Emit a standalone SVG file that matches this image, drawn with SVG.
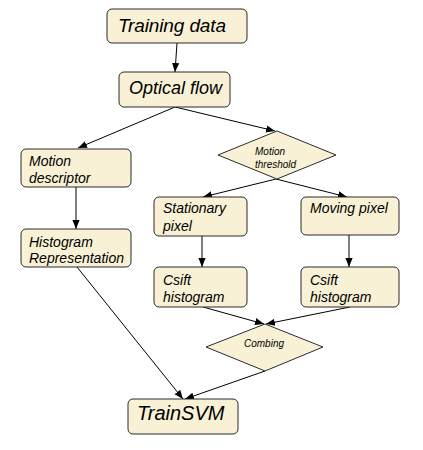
<svg xmlns="http://www.w3.org/2000/svg" width="423" height="450" viewBox="0 0 423 450">
<style>
.n{fill:#F8F1D5;stroke:#2b2b2b;stroke-width:1}
.t{font-family:"Liberation Sans",Arial,sans-serif;font-style:italic;fill:#000}
.c line{stroke:#000;stroke-width:1;marker-end:url(#a)}
</style>
<defs>
<marker id="a" viewBox="0 0 10 10" refX="10" refY="5" markerWidth="9" markerHeight="9" markerUnits="userSpaceOnUse" orient="auto">
<path d="M0,1 L10,5 L0,9 z" fill="#000"/>
</marker>
</defs>
<rect width="423" height="450" fill="#fff"/>
<g class="c">
<line x1="177" y1="43" x2="175" y2="72"/>
<line x1="175" y1="107" x2="78" y2="148"/>
<line x1="175" y1="107" x2="275" y2="131"/>
<line x1="76" y1="187" x2="76" y2="229"/>
<line x1="276" y1="179" x2="203" y2="197"/>
<line x1="276" y1="179" x2="347" y2="197"/>
<line x1="202" y1="236" x2="202" y2="267"/>
<line x1="349" y1="235" x2="349" y2="267"/>
<line x1="203" y1="307" x2="264" y2="324"/>
<line x1="350" y1="307" x2="266" y2="324"/>
<line x1="77" y1="267" x2="183" y2="399"/>
<line x1="265" y1="371" x2="185" y2="399"/>
</g>
<g id="training"><rect class="n" x="107" y="9" width="140" height="34" rx="5"/><text class="t" x="118" y="32" font-size="19" textLength="108">Training data</text></g>
<g id="optical"><rect class="n" x="119" y="72" width="111" height="35" rx="5"/><text class="t" x="129" y="94" font-size="18">Optical flow</text></g>
<g id="motiondesc"><rect class="n" x="21" y="149" width="110" height="38" rx="5"/><text class="t" x="29" y="166" font-size="14">Motion</text><text class="t" x="29" y="183" font-size="14">descriptor</text></g>
<g id="histrep"><rect class="n" x="21" y="229" width="110" height="38" rx="5"/><text class="t" x="29" y="247" font-size="14">Histogram</text><text class="t" x="29" y="263" font-size="14">Representation</text></g>
<g id="threshold"><polygon class="n" points="218,155 277,131 336,155 277,179"/><text class="t" x="255" y="155" font-size="10">Motion</text><text class="t" x="255" y="168" font-size="10">threshold</text></g>
<g id="stationary"><rect class="n" x="154" y="197" width="93" height="39" rx="5"/><text class="t" x="163" y="213" font-size="14">Stationary</text><text class="t" x="163" y="231" font-size="14">pixel</text></g>
<g id="moving"><rect class="n" x="301" y="197" width="98" height="38" rx="5"/><text class="t" x="310" y="213" font-size="14">Moving pixel</text></g>
<g id="csift1"><rect class="n" x="154" y="267" width="93" height="40" rx="5"/><text class="t" x="163" y="285" font-size="14">Csift</text><text class="t" x="163" y="302" font-size="14">histogram</text></g>
<g id="csift2"><rect class="n" x="301" y="267" width="98" height="40" rx="5"/><text class="t" x="310" y="285" font-size="14">Csift</text><text class="t" x="310" y="302" font-size="14">histogram</text></g>
<g id="combing"><polygon class="n" points="206,347 265,324 323,347 265,371"/><text class="t" x="264" y="347" font-size="10" text-anchor="middle">Combing</text></g>
<g id="trainsvm"><rect class="n" x="128" y="399" width="110" height="35" rx="5"/><text class="t" x="137" y="420" font-size="20">TrainSVM</text></g>
</svg>
